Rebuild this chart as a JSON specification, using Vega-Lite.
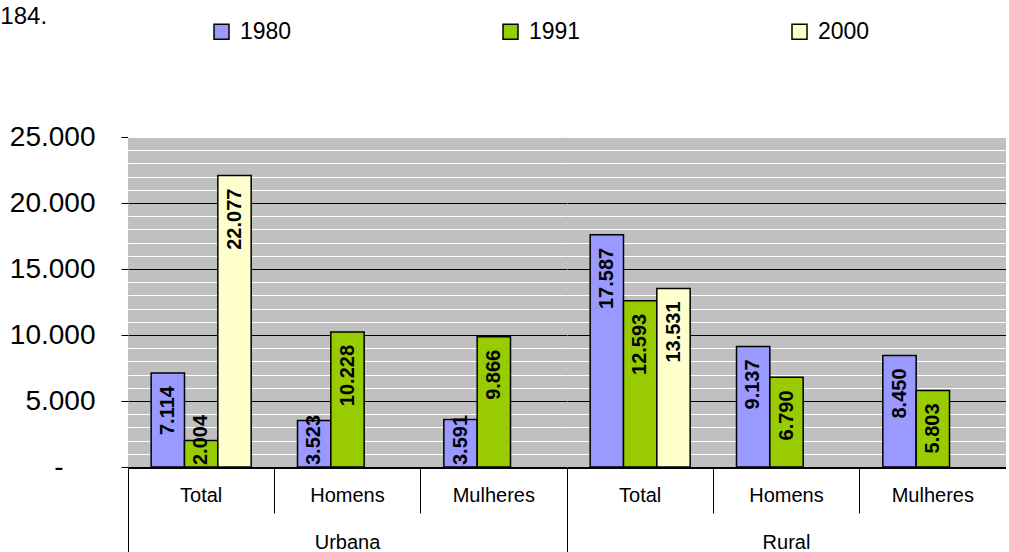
{
  "$schema": "https://vega.github.io/schema/vega-lite/v6.json",
  "padding": {"left": 0, "top": 5, "right": 0, "bottom": 0},
  "title": {"text": "184.", "anchor": "start", "frame": "bounds", "font": "Liberation Sans", "fontSize": 24, "fontWeight": "normal", "color": "#000000", "dx": -9, "offset": -9},
  "data": {"values": [
    {"area": "Urbana", "cat": "Total", "year": "1980", "value": 7114},
    {"area": "Urbana", "cat": "Total", "year": "1991", "value": 2004},
    {"area": "Urbana", "cat": "Total", "year": "2000", "value": 22077},
    {"area": "Urbana", "cat": "Homens", "year": "1980", "value": 3523},
    {"area": "Urbana", "cat": "Homens", "year": "1991", "value": 10228},
    {"area": "Urbana", "cat": "Mulheres", "year": "1980", "value": 3591},
    {"area": "Urbana", "cat": "Mulheres", "year": "1991", "value": 9866},
    {"area": "Rural", "cat": "Total", "year": "1980", "value": 17587},
    {"area": "Rural", "cat": "Total", "year": "1991", "value": 12593},
    {"area": "Rural", "cat": "Total", "year": "2000", "value": 13531},
    {"area": "Rural", "cat": "Homens", "year": "1980", "value": 9137},
    {"area": "Rural", "cat": "Homens", "year": "1991", "value": 6790},
    {"area": "Rural", "cat": "Mulheres", "year": "1980", "value": 8450},
    {"area": "Rural", "cat": "Mulheres", "year": "1991", "value": 5803}
  ]},
  "facet": {"column": {"field": "area", "type": "nominal", "sort": ["Urbana", "Rural"], "title": null,
    "header": {"labelOrient": "bottom", "labelFont": "Liberation Sans", "labelFontSize": 20, "labelColor": "#000000", "labelPadding": -23}}},
  "spacing": 0,
  "spec": {
    "width": 439,
    "height": 330,
    "encoding": {
      "x": {"field": "cat", "type": "nominal", "sort": ["Total", "Homens", "Mulheres"],
        "scale": {"paddingInner": 0, "paddingOuter": 0},
        "axis": {"title": null, "bandPosition": 0, "labelOffset": 0, "labelAngle": 0,
          "tickSize": {"condition": {"test": "datum.value === 'Total'", "value": 87}, "value": 45},
          "labelPadding": {"condition": {"test": "datum.value === 'Total'", "value": -70}, "value": -28},
          "tickColor": "#000000", "tickWidth": 1, "domainColor": "#000000", "domainWidth": 1,
          "labelFont": "Liberation Sans", "labelFontSize": 20, "labelColor": "#000000", "labelOverlap": false, "grid": false}},
      "xOffset": {"field": "year", "type": "nominal", "scale": {"domain": ["1980", "1991", "2000"], "paddingInner": 0, "paddingOuter": 0.695}}
    },
    "layer": [
      {
        "mark": {"type": "bar", "stroke": "#000000", "strokeWidth": 1.5},
        "encoding": {
          "y": {"field": "value", "type": "quantitative", "scale": {"domain": [0, 25000], "nice": false},
            "axis": {"title": null, "values": [0,1000,2000,3000,4000,5000,6000,7000,8000,9000,10000,11000,12000,13000,14000,15000,16000,17000,18000,19000,20000,21000,22000,23000,24000,25000],
              "tickCount": 30,
              "format": ",d", "labelOverlap": false,
              "labelExpr": "datum.value % 5000 === 0 ? (datum.value === 0 ? '-' : datum.label) : ''",
              "grid": true,
              "gridColor": {"condition": {"test": "datum.value % 5000 === 0 && datum.value < 25000", "value": "#000000"}, "value": "#ffffff"},
              "gridWidth": 1,
              "tickSize": {"condition": {"test": "datum.value % 5000 === 0", "value": 7}, "value": 0},
              "labelPadding": {"condition": {"test": "datum.value === 0", "value": 58}, "value": 26},
              "tickColor": "#000000", "domainColor": "#000000",
              "labelFont": "Liberation Sans", "labelFontSize": 28, "labelColor": "#000000"}},
          "color": {"field": "year", "type": "nominal",
            "scale": {"domain": ["1980", "1991", "2000"], "range": ["#9999FF", "#99CC00", "#FFFFCC"]},
            "legend": {"title": null, "orient": "none", "legendX": 82, "legendY": -117, "direction": "horizontal",
              "symbolType": "square", "symbolSize": 225, "symbolStrokeColor": "#000000", "symbolStrokeWidth": 1.5, "symbolOpacity": 1,
              "labelFont": "Liberation Sans", "labelFontSize": 23, "labelColor": "#000000", "labelOffset": 7, "columnPadding": 207}}
        }
      },
      {
        "transform": [{"filter": "datum.value >= 5000"}],
        "mark": {"type": "text", "angle": 270, "align": "right", "baseline": "middle", "dx": -13, "font": "Liberation Sans", "fontWeight": "bold", "fontSize": 20, "color": "#000000"},
        "encoding": {
          "y": {"field": "value", "type": "quantitative"},
          "text": {"field": "value", "type": "quantitative", "format": ",d"}
        }
      },
      {
        "transform": [{"filter": "datum.value < 5000"}],
        "mark": {"type": "text", "angle": 270, "align": "left", "baseline": "middle", "dx": 2, "font": "Liberation Sans", "fontWeight": "bold", "fontSize": 20, "color": "#000000"},
        "encoding": {
          "y": {"datum": 0, "type": "quantitative"},
          "text": {"field": "value", "type": "quantitative", "format": ",d"}
        }
      }
    ]
  },
  "config": {
    "locale": {"number": {"decimal": ",", "thousands": ".", "grouping": [3], "currency": ["", ""]}},
    "view": {"fill": "#c0c0c0", "stroke": null},
    "background": "#ffffff"
  }
}
